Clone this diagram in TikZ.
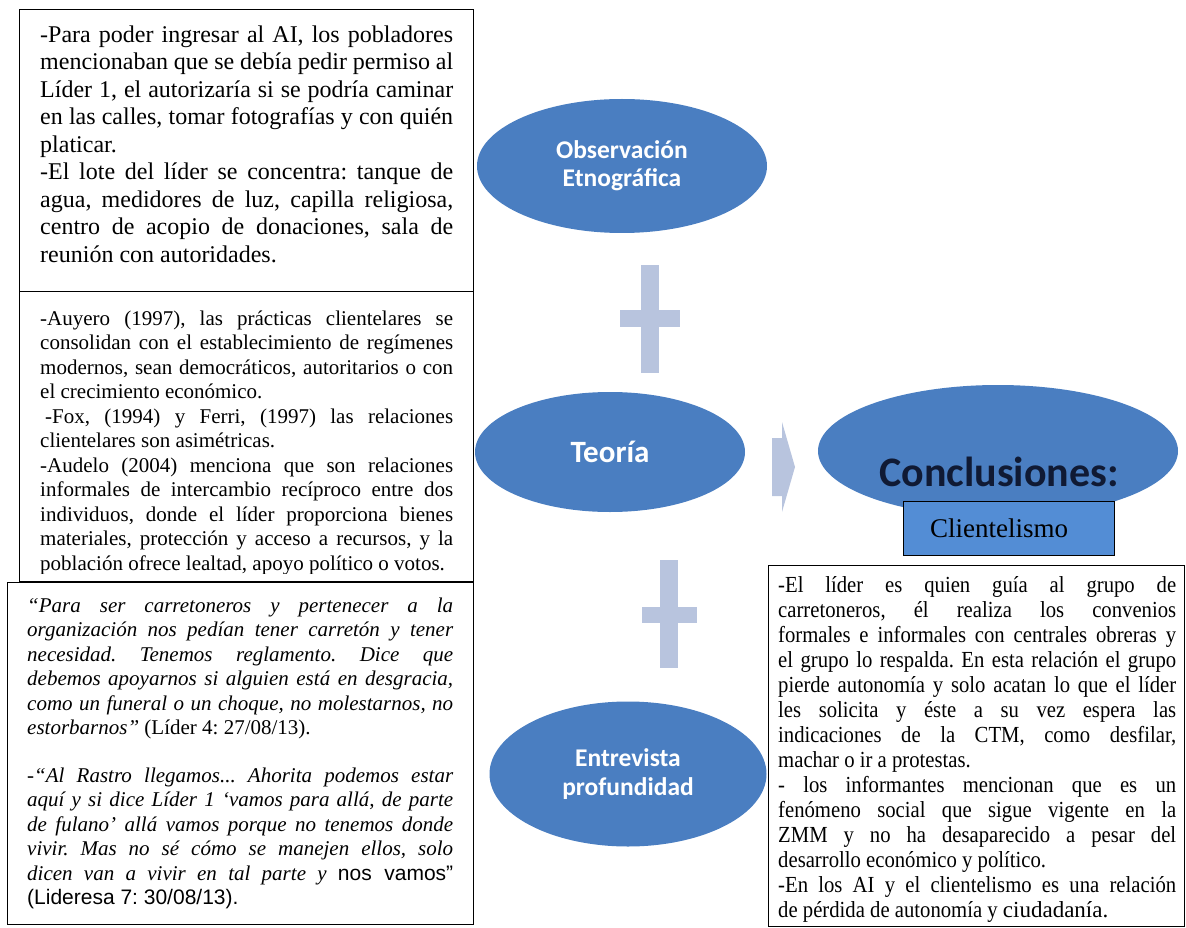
\documentclass[tikz,border=0pt]{standalone}
\usepackage{fontspec}
\setmainfont{Liberation Serif}
\newfontfamily\calibri{Carlito}
\newfontfamily\arial{Liberation Sans}
\newfontfamily\serifestrecha{Liberation Serif}[FakeStretch=0.9]
\usetikzlibrary{shapes.geometric}
\definecolor{azulelipse}{RGB}{74,126,193}
\definecolor{azulcaja}{RGB}{83,141,213}
\definecolor{azulmas}{RGB}{184,196,222}
\definecolor{azultexto}{RGB}{16,26,52}
\setlength{\parindent}{0pt}
\frenchspacing
\tikzset{
  elipse/.style={ellipse, fill=azulelipse, inner sep=0pt, align=center, text=white},
  marco/.style={draw=black, line width=1.3pt, fill=white, inner sep=0pt, anchor=north west},
  texto/.style={inner sep=0pt, anchor=north west, align=justify},
}
\begin{document}
\begin{tikzpicture}[x=1pt, y=-1pt]
\useasboundingbox (0,0) rectangle (1186,928);
% Elipses
\node[elipse, minimum width=290pt, minimum height=134pt, font=\calibri\bfseries\fontsize{25.5}{28}\selectfont] (obs) at (622,166) {Observación\\Etnográfica};
\node[elipse, minimum width=270pt, minimum height=120pt, font=\calibri\bfseries\fontsize{31}{32}\selectfont] (teoria) at (610,452) {Teoría};
\node[elipse, minimum width=277pt, minimum height=145pt, font=\calibri\bfseries\fontsize{25.5}{29}\selectfont] (entrev) at (628,774) {Entrevista\\profundidad};
\node[elipse, minimum width=360pt, minimum height=132pt] (concl) at (998,451) {};
\node[font=\calibri\bfseries\fontsize{42}{44}\selectfont, text=azultexto, inner sep=0pt] (concltxt) at (999,472) {Conclusiones:};
% Signos mas y flecha
\fill[azulmas] (641,265) rectangle (659,373);
\fill[azulmas] (620,310) rectangle (680,327);
\fill[azulmas] (660,560) rectangle (678,668);
\fill[azulmas] (642,607) rectangle (697,623);
\fill[azulmas] (772,438) -- (782,438) -- (782,422) -- (795,467) -- (782,512) -- (782,496) -- (772,496) -- cycle;
% Clientelismo
\node[marco, fill=azulcaja, minimum width=211pt, minimum height=54pt] (cliente) at (903,501) {};
\node[font=\fontsize{27}{30}\selectfont, inner sep=0pt] (clientetxt) at (999,528) {Clientelismo};
% Caja observacion
\node[marco, minimum width=454pt, minimum height=282pt] (cajaobs) at (19,9) {};
\node[texto, text width=413pt, font=\fontsize{24}{27.5}\selectfont] (txtobs) at (40,25.5) {-Para poder ingresar al AI, los pobladores\linebreak mencionaban que se debía pedir permiso al\linebreak Líder 1, el autorizaría si se podría caminar\linebreak en las calles, tomar fotografías y con quién\linebreak platicar.\par
-El lote del líder se concentra: tanque de\linebreak agua, medidores de luz, capilla religiosa,\linebreak centro de acopio de donaciones, sala de\linebreak reunión con autoridades.};
% Caja teoria
\node[marco, minimum width=454pt, minimum height=290pt] (cajateo) at (19,291) {};
\begin{scope}
\clip (19,291) rectangle (473,573);
\node[texto, text width=413pt, font=\fontsize{21}{24.5}\selectfont] (txtteo) at (40,310.4) {-Auyero (1997), las prácticas clientelares se\linebreak consolidan con el establecimiento de regímenes\linebreak modernos, sean democráticos, autoritarios o con\linebreak el crecimiento económico.\par
\hspace*{5pt}-Fox, (1994) y Ferri, (1997) las relaciones\linebreak clientelares son asimétricas.\par
-Audelo (2004) menciona que son relaciones\linebreak informales de intercambio recíproco entre dos\linebreak individuos, donde el líder proporciona bienes\linebreak materiales, protección y acceso a recursos, y la\linebreak población ofrece lealtad, apoyo político o votos.};
\end{scope}
% Caja entrevista
\node[marco, minimum width=466pt, minimum height=342pt] (cajaent) at (7,582) {};
\node[texto, text width=426pt, font=\fontsize{21}{24.5}\selectfont\itshape] (txtent) at (27,597.7) {“Para ser carretoneros y pertenecer a la\linebreak organización nos pedían tener carretón y tener\linebreak necesidad. Tenemos reglamento. Dice que\linebreak debemos apoyarnos si alguien está en desgracia,\linebreak como un funeral o un choque, no molestarnos, no\linebreak estorbarnos” {\upshape(Líder 4: 27/08/13).}\par\vspace{23pt}
-“Al Rastro llegamos... Ahorita podemos estar\linebreak aquí y si dice Líder 1 ‘vamos para allá, de parte\linebreak de fulano’ allá vamos porque no tenemos donde\linebreak vivir. Mas no sé cómo se manejen ellos, solo\linebreak dicen van a vivir en tal parte y {\arial\upshape nos vamos”}\linebreak {\arial\upshape(Lideresa 7: 30/08/13).}};
% Caja conclusiones
\node[marco, minimum width=416pt, minimum height=361pt] (cajaconcl) at (768,565) {};
\node[texto, text width=398pt, font=\serifestrecha\fontsize{23}{25}\selectfont] (txtconcl) at (778,576) {-El líder es quien guía al grupo de\linebreak carretoneros, él realiza los convenios\linebreak formales e informales con centrales obreras y\linebreak el grupo lo respalda. En esta relación el grupo\linebreak pierde autonomía y solo acatan lo que el líder\linebreak les solicita y éste a su vez espera las\linebreak indicaciones de la CTM, como desfilar,\linebreak machar o ir a protestas.\par
- los informantes mencionan que es un\linebreak fenómeno social que sigue vigente en la\linebreak ZMM y no ha desaparecido a pesar del\linebreak desarrollo económico y político.\par
-En los AI y el clientelismo es una relación\linebreak de pérdida de autonomía y {\rmfamily ciudadanía.}};
\end{tikzpicture}
\end{document}
